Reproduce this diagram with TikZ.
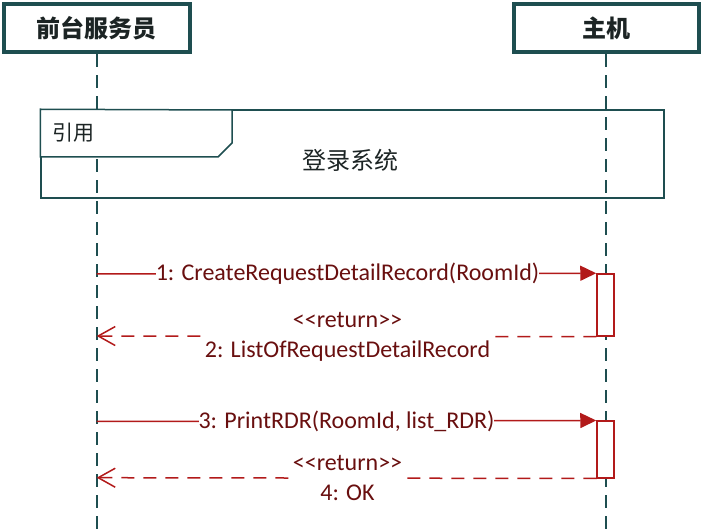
\documentclass[tikz,border=0pt]{standalone}
\usepackage{fontspec}
\setmainfont{Carlito}
\newfontfamily\cjk{Noto Sans CJK SC}
\usetikzlibrary{arrows.meta}
\definecolor{tealline}{RGB}{30,78,80}
\definecolor{arrred}{RGB}{178,26,26}
\definecolor{txtred}{RGB}{105,15,15}
\definecolor{headtxt}{RGB}{28,36,36}
\tikzset{
  headbox/.style={draw=tealline,line width=4pt,fill=white,minimum width=186pt,minimum height=48.5pt,
    inner sep=0pt,font=\cjk\bfseries\fontsize{24}{26}\selectfont,text=headtxt},
  lifeline/.style={draw=tealline,line width=2pt,dash pattern=on 13pt off 8pt},
  actbox/.style={draw=arrred,line width=1.5pt,fill=white},
  callmsg/.style={draw=arrred,line width=1.5pt,-{Triangle[length=16pt,width=15pt]}},
  retmsg/.style={draw=arrred,line width=1.5pt,dash pattern=on 13pt off 9pt,-{Straight Barb[length=17pt,width=19pt,line width=1.5pt]}},
  msglabel/.style={fill=white,inner sep=0pt,text=txtred,font=\fontsize{24}{30}\selectfont,align=center},
  frameline/.style={draw=tealline,line width=1.5pt}
}
\begin{document}
\begin{tikzpicture}[x=1pt,y=-1pt]
\useasboundingbox (0,0) rectangle (702,529);
% heads
\node[headbox] (clerk) at (96.7,28) {前台服务员};
\node[headbox,minimum width=185pt] (host) at (606.3,28) {主机};
% lifelines
\coordinate (clerkend) at (96.7,529);
\coordinate (hostend) at (606.3,529);
\draw[lifeline] (clerk.south) -- (clerkend);
\draw[lifeline] (host.south) -- (hostend);
% ref frame
\node[frameline,draw,minimum width=623pt,minimum height=88pt,inner sep=0pt] (ref) at (352.5,154) {};
\filldraw[frameline,fill=white] (ref.north west) -- (232,110) -- (232,143) -- (218,157) -- (ref.west |- 0,157) -- cycle;
\node[font=\cjk\fontsize{21}{24}\selectfont,text=headtxt,inner sep=0pt] (reftag) at (73.5,133) {引用};
\node[font=\cjk\fontsize{24}{26}\selectfont,text=headtxt,inner sep=0pt] (reftitle) at (350.5,160) {登录系统};
% activation boxes
\node[actbox,minimum width=17pt,minimum height=62pt,inner sep=0pt] (act1) at (605.5,305) {};
\node[actbox,minimum width=17pt,minimum height=56.5pt,inner sep=0pt] (act2) at (605.5,449.5) {};
% message 1
\coordinate (m1s) at (96.7,274);
\draw[callmsg] (m1s) -- (act1.north west);
\node[msglabel] (m1) at (347.5,274) {1: CreateRequestDetailRecord(RoomId)};
% return 2
\coordinate (r2e) at (96.7,336);
\draw[retmsg] (act1.south west) -- (r2e);
\node[msglabel] (r2) at (347.5,337) {<{}<return>{}>\\2: ListOfRequestDetailRecord};
% message 3
\coordinate (m3s) at (96.7,421.5);
\draw[callmsg] (m3s) -- (act2.north west);
\node[msglabel] (m3) at (346.5,421.5) {3: PrintRDR(RoomId, list\_RDR)};
% return 4
\coordinate (r4e) at (96.7,477.7);
\draw[retmsg] (act2.south west) -- (r4e);
\node[msglabel] (r4) at (347.5,478.5) {<{}<return>{}>\\4: OK};
\end{tikzpicture}
\end{document}
